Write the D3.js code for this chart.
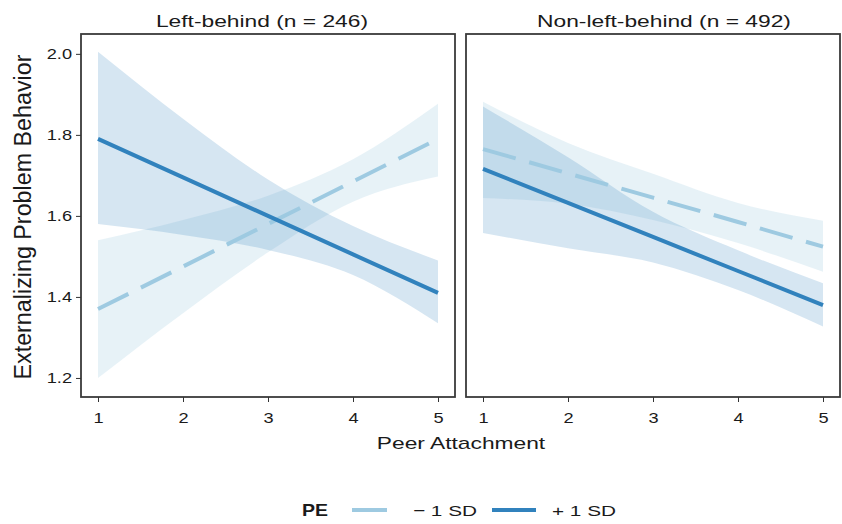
<!DOCTYPE html>
<html>
<head>
<meta charset="utf-8">
<script src="https://cdn.jsdelivr.net/npm/d3@7"></script>
<style>
    body { margin: 0; background: #fff; }
    text { font-family: "Liberation Sans", Arial, sans-serif; fill: #1a1a1a; }
</style>
</head>
<body>
<svg id="chart" width="842" height="524"></svg>
<script>
// x positions where the fitted values were read
var xVals = [1, 2, 3, 4, 5];
var xTicks = [1, 2, 3, 4, 5];
var yTicks = [1.2, 1.4, 1.6, 1.8, 2.0];
var groupNames = ["Left-behind (n = 246)", "Non-left-behind (n = 492)"];
var peLabels = ["\u2212 1 SD", "+ 1 SD"];

// Left-behind, PE -1 SD
var lbLowFit   = [1.37, 1.475, 1.58, 1.685, 1.79];
var lbLowLower = [1.20, 1.36, 1.51, 1.635, 1.697];
var lbLowUpper = [1.54, 1.59, 1.65, 1.74, 1.877];
// Left-behind, PE +1 SD
var lbHighFit   = [1.79, 1.695, 1.60, 1.505, 1.41];
var lbHighLower = [1.58, 1.553, 1.516, 1.454, 1.335];
var lbHighUpper = [2.005, 1.84, 1.69, 1.575, 1.49];

// Non-left-behind, PE -1 SD
var nlbLowFit   = [1.765, 1.705, 1.645, 1.585, 1.524];
var nlbLowLower = [1.644, 1.63, 1.59, 1.533, 1.462];
var nlbLowUpper = [1.882, 1.78, 1.704, 1.632, 1.588];
// Non-left-behind, PE +1 SD
var nlbHighFit   = [1.716, 1.632, 1.548, 1.464, 1.38];
var nlbHighLower = [1.558, 1.52, 1.485, 1.417, 1.327];
var nlbHighUpper = [1.87, 1.745, 1.61, 1.515, 1.434];

var lightBlue = "#9ecae1", darkBlue = "#3182bd";

function rows(fit, lo, hi) {
    return xVals.map(function(x, i) { return {x: x, fit: fit[i], lo: lo[i], hi: hi[i]}; });
}

var panels = [
    {title: groupNames[0], x0: 81, titleX: 262,
     low: rows(lbLowFit, lbLowLower, lbLowUpper), high: rows(lbHighFit, lbHighLower, lbHighUpper)},
    {title: groupNames[1], x0: 466, titleX: 664,
     low: rows(nlbLowFit, nlbLowLower, nlbLowUpper), high: rows(nlbHighFit, nlbHighLower, nlbHighUpper)}
];

var svg = d3.select("#chart");
var plotTop = 34, plotBottom = 397, panelW = 374;
var y = d3.scaleLinear().domain([1.153, 2.049]).range([plotBottom, plotTop]);

// the source figure uses a wide sans face; stretch glyphs to match
function widen(sel, k) {
    sel.each(function() {
        var w = this.getComputedTextLength();
        d3.select(this).attr("textLength", w * k).attr("lengthAdjust", "spacingAndGlyphs");
    });
}

panels.forEach(function(p, i) {
    var x = d3.scaleLinear().domain([0.8, 5.2]).range([p.x0, p.x0 + panelW]);
    var g = svg.append("g");

    var area = d3.area()
        .x(function(d) { return x(d.x); })
        .y0(function(d) { return y(d.lo); })
        .y1(function(d) { return y(d.hi); })
        .curve(d3.curveMonotoneX);
    var line = d3.line()
        .x(function(d) { return x(d.x); })
        .y(function(d) { return y(d.fit); });

    g.append("path").attr("d", area(p.low)).attr("fill", lightBlue).attr("fill-opacity", 0.25);
    g.append("path").attr("d", area(p.high)).attr("fill", darkBlue).attr("fill-opacity", 0.2);

    g.append("path").attr("d", line(p.low))
        .attr("fill", "none").attr("stroke", lightBlue).attr("stroke-width", 4)
        .attr("stroke-dasharray", "34,14");
    g.append("path").attr("d", line(p.high))
        .attr("fill", "none").attr("stroke", darkBlue).attr("stroke-width", 4);

    g.append("rect")
        .attr("x", p.x0).attr("y", plotTop)
        .attr("width", panelW).attr("height", plotBottom - plotTop)
        .attr("fill", "none").attr("stroke", "#3a3a3a").attr("stroke-width", 1.8);

    var xAxis = g.append("g")
        .attr("transform", "translate(0," + plotBottom + ")")
        .call(d3.axisBottom(x).tickValues(xTicks).tickSize(5).tickPadding(11).tickFormat(d3.format("d")))
        .attr("font-size", 14)
        .attr("font-family", "Liberation Sans, Arial, sans-serif")
        .style("color", "#333");
    xAxis.select(".domain").remove();
    widen(xAxis.selectAll("text"), 1.3);

    if (i === 0) {
        var yAxis = g.append("g")
            .attr("transform", "translate(" + p.x0 + ",0)")
            .call(d3.axisLeft(y).tickValues(yTicks).tickSize(5).tickPadding(4).tickFormat(d3.format(".1f")))
            .attr("font-size", 14)
            .attr("font-family", "Liberation Sans, Arial, sans-serif")
            .style("color", "#333");
        yAxis.select(".domain").remove();
        widen(yAxis.selectAll("text"), 1.3);
    }

    var t = g.append("text")
        .attr("x", p.titleX).attr("y", 27)
        .attr("text-anchor", "middle")
        .attr("font-size", 17)
        .text(p.title);
    widen(t, 1.34);
});

var xTitle = svg.append("text")
    .attr("x", 461).attr("y", 449)
    .attr("text-anchor", "middle")
    .attr("font-size", 17)
    .text("Peer Attachment");
widen(xTitle, 1.34);

svg.append("text")
    .attr("transform", "translate(31,217) rotate(-90)")
    .attr("text-anchor", "middle")
    .attr("font-size", 23)
    .attr("textLength", 325).attr("lengthAdjust", "spacingAndGlyphs")
    .text("Externalizing Problem Behavior");

// legend
var legend = svg.append("g");
legend.append("text")
    .attr("x", 302).attr("y", 516)
    .attr("font-size", 17).attr("font-weight", "bold")
    .attr("textLength", 26).attr("lengthAdjust", "spacingAndGlyphs")
    .text("PE");
var keys = [
    {label: peLabels[0], color: lightBlue, x1: 352, x2: 387, tx: 413, tw: 64},
    {label: peLabels[1], color: darkBlue, x1: 492, x2: 536, tx: 552, tw: 64}
];
keys.forEach(function(k) {
    legend.append("line")
        .attr("x1", k.x1).attr("x2", k.x2).attr("y1", 510).attr("y2", 510)
        .attr("stroke", k.color).attr("stroke-width", 4);
    legend.append("text")
        .attr("x", k.tx).attr("y", 516)
        .attr("font-size", 15.5)
        .attr("textLength", k.tw).attr("lengthAdjust", "spacingAndGlyphs")
        .text(k.label);
});
</script>
</body>
</html>
